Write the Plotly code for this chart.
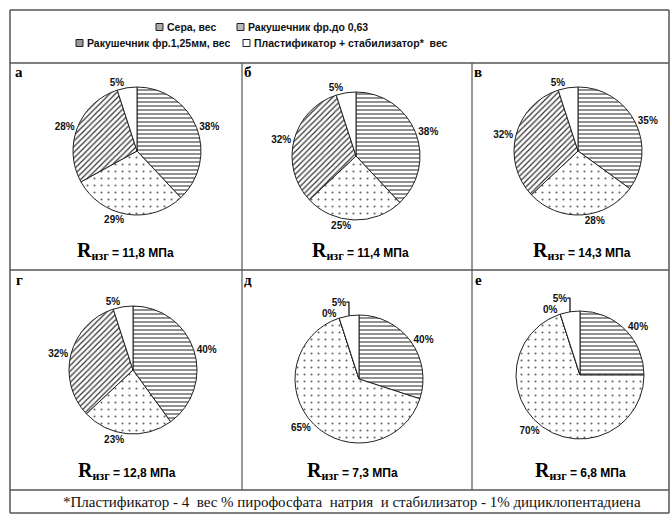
import plotly.graph_objects as go

W, H = 672, 515

components = ["Сера, вес", "Ракушечник фр.до 0,63",
              "Ракушечник фр.1,25мм, вес", "Пластификатор + стабилизатор*  вес"]
panel_letters = ["а", "б", "в", "г", "д", "е"]

# slice sizes as drawn
vals_a = [38, 29, 28, 5]
vals_b = [38, 25, 32, 5]
vals_v = [35, 28, 32, 5]
vals_g = [40, 23, 32, 5]
vals_d = [30, 65, 0, 5]
vals_e = [25, 70, 0, 5]
# labels as printed
text_a = ["38%", "29%", "28%", "5%"]
text_b = ["38%", "25%", "32%", "5%"]
text_v = ["35%", "28%", "32%", "5%"]
text_g = ["40%", "23%", "32%", "5%"]
text_d = ["40%", "65%", "0%", "5%"]
text_e = ["40%", "70%", "0%", "5%"]
strength = ["11,8", "11,4", "14,3", "12,8", "7,3", "6,8"]
footnote = "*Пластификатор - 4  вес % пирофосфата  натрия  и стабилизатор - 1% дициклопентадиена"

values = [vals_a, vals_b, vals_v, vals_g, vals_d, vals_e]
texts = [text_a, text_b, text_v, text_g, text_d, text_e]

# layout (screen pixels)
frame_l, frame_r, frame_t, frame_b = 10, 669, 10, 513
head_b, row_mid, foot_t = 63, 270, 490
col1, col2 = 242, 472
pie_r = 64
centers = [(137, 151), (356, 156), (578, 151), (133, 370), (359, 379), (580, 375)]
letter_pos = [(19, 72), (248, 72), (478, 72), (19, 280), (248, 280), (478, 280)]
r_pos = [(125, 251), (360, 251), (582, 251), (127, 471), (352, 471), (580, 471)]

SANS = "Liberation Sans, Arial"
SERIF = "Liberation Serif, Times New Roman, serif"

def px(x):
    return x / W

def py(y):
    return 1 - y / H

fig = go.Figure()
shapes_pat = ["-", ".", "/", ""]
for i, (vals, txt) in enumerate(zip(values, texts)):
    cx, cy = centers[i]
    fig.add_trace(go.Pie(
        labels=components, values=vals, text=txt, textinfo="text",
        textposition="outside", sort=False, direction="clockwise", rotation=0,
        hoverinfo="skip", showlegend=False,
        textfont=dict(family=SANS, size=10, color="#111", weight="bold"),
        marker=dict(colors=["white"] * 4, line=dict(color="#222", width=1),
                    pattern=dict(shape=shapes_pat, fgcolor=["#222", "#666", "#333", "white"],
                                 bgcolor="white",
                                 size=[4, 7, 4, 4], solidity=[0.25, 0.07, 0.3, 0.1])),
        domain=dict(x=[px(cx - pie_r), px(cx + pie_r)], y=[py(cy + pie_r), py(cy - pie_r)]),
    ))

shapes = []
def line(x0, y0, x1, y1, w=1.5, c="#555"):
    shapes.append(dict(type="line", xref="paper", yref="paper",
                       x0=px(x0), y0=py(y0), x1=px(x1), y1=py(y1),
                       line=dict(color=c, width=w)))

line(frame_l, frame_t, frame_r, frame_t)
line(frame_l, frame_b, frame_r, frame_b)
line(frame_l, frame_t, frame_l, frame_b)
line(frame_r, frame_t, frame_r, frame_b)
line(frame_l, head_b, frame_r, head_b)
line(frame_l, row_mid, frame_r, row_mid)
line(frame_l, foot_t, frame_r, foot_t)
line(col1, head_b, col1, foot_t, w=1.2)
line(col2, head_b, col2, foot_t, w=1.2)

annotations = []
# legend
leg_rows = [27, 43]
leg_items = [(components[0], 156, leg_rows[0], "#aaa"), (components[1], 237, leg_rows[0], "#bbb"),
             (components[2], 76, leg_rows[1], "#999"), (components[3], 243, leg_rows[1], "white")]
for name, x, y, fill in leg_items:
    shapes.append(dict(type="rect", xref="paper", yref="paper",
                       x0=px(x), x1=px(x + 7), y0=py(y + 3.5), y1=py(y - 3.5),
                       line=dict(color="#222", width=1), fillcolor=fill))
    annotations.append(dict(text=name, x=px(x + 9), y=py(y), xref="paper", yref="paper",
                            xanchor="left", yanchor="middle", showarrow=False,
                            font=dict(family=SANS, size=10.5, color="#111", weight="bold")))

for i, letter in enumerate(panel_letters):
    lx, ly = letter_pos[i]
    annotations.append(dict(text=letter, x=px(lx), y=py(ly), xref="paper", yref="paper",
                            xanchor="center", yanchor="middle", showarrow=False,
                            font=dict(family=SERIF, size=15, color="black", weight="bold")))
    rx, ry = r_pos[i]
    label = (f"<span style='font-family:{SERIF};font-size:20px'><b>R</b></span>"
             f"<sub><span style='font-family:{SERIF};font-size:12px'><b>изг</b></span></sub>"
             f"<b> = {strength[i]} МПа</b>")
    annotations.append(dict(text=label, x=px(rx), y=py(ry), xref="paper", yref="paper",
                            xanchor="center", yanchor="middle", showarrow=False,
                            font=dict(family=SANS, size=12, color="black")))

annotations.append(dict(text=f"<span style='font-family:{SERIF}'>{footnote}</span>",
                        x=px(352), y=py(502), xref="paper", yref="paper",
                        xanchor="center", yanchor="middle", showarrow=False,
                        font=dict(family=SERIF, size=15, color="#111")))

fig.update_layout(width=W, height=H, margin=dict(l=0, r=0, t=0, b=0),
                  paper_bgcolor="white", plot_bgcolor="white",
                  shapes=shapes, annotations=annotations)
fig.write_html("out.html", config={"displayModeBar": False},
               post_script="document.body.style.margin='0';"
                           "document.documentElement.style.overflow='hidden';")
